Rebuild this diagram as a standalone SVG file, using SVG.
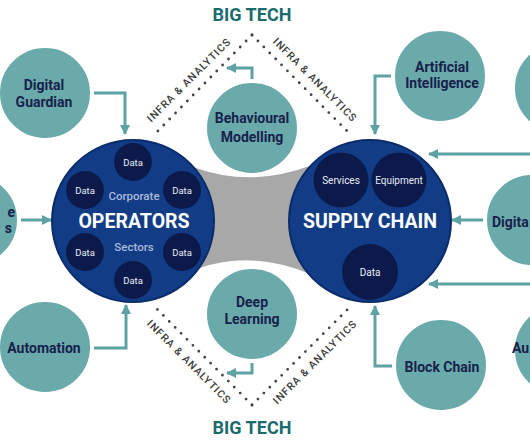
<svg xmlns="http://www.w3.org/2000/svg" width="530" height="443" viewBox="0 0 530 443">
<defs>
<marker id="ah" viewBox="0 0 10 10" refX="9" refY="5" markerWidth="10" markerHeight="10" markerUnits="userSpaceOnUse" orient="auto">
<path d="M0,0 L10,5 L0,10 z" fill="#5ea2a3"/>
</marker>
<style>
.teal{fill:#6baaab;stroke:#fff;stroke-width:4}
.lbl{font-family:Roboto,"Liberation Sans",sans-serif;font-weight:700;font-size:14px;fill:#17214b;text-anchor:middle}
.big{fill:#123c86;stroke:#0a2c6b;stroke-width:2}
.dc{fill:#0b1a4b}
.dt{font-family:Roboto,"Liberation Sans",sans-serif;font-size:9.5px;fill:#e8ecf5;text-anchor:middle}
.title{font-family:Roboto,"Liberation Sans",sans-serif;font-weight:700;font-size:19.5px;fill:#fff;text-anchor:middle}
.sub{font-family:Roboto,"Liberation Sans",sans-serif;font-weight:500;font-size:11.5px;fill:#a9b9d8;text-anchor:middle}
.bt{font-family:Roboto,"Liberation Sans",sans-serif;font-weight:700;font-size:18px;fill:#1b6b6c;text-anchor:middle}
.ia{font-family:Roboto,"Liberation Sans",sans-serif;font-weight:500;font-size:10.5px;letter-spacing:1px;fill:#3d3d3d;text-anchor:middle}
.dots{stroke:#444;stroke-width:2.8;stroke-linecap:round;stroke-dasharray:0 8.4;fill:none}
.con{fill:none;stroke:#5ea2a3;stroke-width:3;marker-end:url(#ah)}
</style>
</defs>
<rect width="530" height="443" fill="#fff"/>

<g id="bridge">
<path d="M180,168 L196,168 Q252,188 312,165 L330,165 L330,280 L310,274 Q252,250 200,268 L180,268 Z" fill="#a8a8a8"/>
</g>

<g id="infra">
<line class="dots" x1="252" y1="35" x2="153" y2="136"/>
<line class="dots" x1="252" y1="35" x2="352" y2="136"/>
<line class="dots" x1="252" y1="405" x2="153" y2="305"/>
<line class="dots" x1="252" y1="405" x2="352" y2="305"/>
<text class="ia" transform="translate(191.5,82.5) rotate(-45)">INFRA &amp; ANALYTICS</text>
<text class="ia" transform="translate(312.5,82.5) rotate(45)">INFRA &amp; ANALYTICS</text>
<text class="ia" transform="translate(186.5,364.5) rotate(45)">INFRA &amp; ANALYTICS</text>
<text class="ia" transform="translate(317.5,364.5) rotate(-45)">INFRA &amp; ANALYTICS</text>
</g>

<g id="bigtech-top"><text class="bt" x="252" y="21">BIG TECH</text></g>
<g id="bigtech-bottom"><text class="bt" x="252" y="434">BIG TECH</text></g>

<g id="connectors">
<polyline class="con" points="93,93 125,93 125,134"/>
<line class="con" x1="20" y1="220" x2="51" y2="220"/>
<polyline class="con" points="93,348 126,348 126,305"/>
<polyline class="con" points="252,80 252,68 227,68"/>
<polyline class="con" points="252,362 252,373 227,373"/>
<polyline class="con" points="392,76 375,76 375,134"/>
<line class="con" x1="530" y1="154" x2="429" y2="154"/>
<line class="con" x1="484" y1="220" x2="452" y2="220"/>
<line class="con" x1="530" y1="284" x2="429" y2="284"/>
<polyline class="con" points="393,366 375,366 375,306"/>
</g>

<g id="operators">
<circle class="big" cx="133" cy="221" r="81"/>
<circle class="dc" cx="133" cy="162" r="19"/>
<circle class="dc" cx="85" cy="190" r="19"/>
<circle class="dc" cx="182" cy="190" r="19"/>
<circle class="dc" cx="85" cy="252" r="19"/>
<circle class="dc" cx="182" cy="252" r="19"/>
<circle class="dc" cx="133" cy="280" r="19"/>
<text class="dt" x="133" y="165.5">Data</text>
<text class="dt" x="85" y="193.5">Data</text>
<text class="dt" x="182" y="193.5">Data</text>
<text class="dt" x="85" y="255.5">Data</text>
<text class="dt" x="182" y="255.5">Data</text>
<text class="dt" x="133" y="283.5">Data</text>
<text class="sub" x="134" y="200">Corporate</text>
<text class="title" x="134" y="228">OPERATORS</text>
<text class="sub" x="134" y="251">Sectors</text>
</g>

<g id="supply-chain">
<circle class="big" cx="370" cy="221" r="81"/>
<circle class="dc" cx="341" cy="180" r="27.5"/>
<circle class="dc" cx="399" cy="180" r="27.5"/>
<circle class="dc" cx="370" cy="272" r="28"/>
<text class="dt" x="341" y="183.5" style="font-size:10px">Services</text>
<text class="dt" x="399" y="183.5" style="font-size:10px">Equipment</text>
<text class="dt" x="370" y="275.5" style="font-size:10px">Data</text>
<text class="title" x="370" y="228">SUPPLY CHAIN</text>
</g>

<g id="digital-guardian">
<circle class="teal" cx="45" cy="93" r="47"/>
<text class="lbl" x="44" y="90">Digital</text>
<text class="lbl" x="44" y="107">Guardian</text>
</g>

<g id="left-partial">
<circle class="teal" cx="-28" cy="220" r="47"/>
<text class="lbl" x="15" y="217" style="text-anchor:end">e</text>
<text class="lbl" x="12" y="233" style="text-anchor:end">s</text>
</g>

<g id="automation">
<circle class="teal" cx="45" cy="347" r="47"/>
<text class="lbl" x="44" y="353">Automation</text>
</g>

<g id="behavioural-modelling">
<circle class="teal" cx="252" cy="128" r="47"/>
<text class="lbl" x="252" y="123">Behavioural</text>
<text class="lbl" x="252" y="142">Modelling</text>
</g>

<g id="deep-learning">
<circle class="teal" cx="252" cy="314" r="47"/>
<text class="lbl" x="252" y="307">Deep</text>
<text class="lbl" x="252" y="324">Learning</text>
</g>

<g id="artificial-intelligence">
<circle class="teal" cx="440" cy="76" r="47"/>
<text class="lbl" x="442" y="72">Artificial</text>
<text class="lbl" x="442" y="88">Intelligence</text>
</g>

<g id="right-top-partial">
<circle class="teal" cx="560" cy="88" r="47"/>
</g>

<g id="digital-right">
<circle class="teal" cx="532" cy="220" r="47"/>
<text class="lbl" x="492" y="227" style="text-anchor:start">Digita</text>
</g>

<g id="block-chain">
<circle class="teal" cx="441" cy="365" r="47"/>
<text class="lbl" x="442" y="372">Block Chain</text>
</g>

<g id="right-bottom-partial">
<circle class="teal" cx="560" cy="350" r="47"/>
<text class="lbl" x="512" y="353" style="text-anchor:start">Au</text>
</g>
</svg>
